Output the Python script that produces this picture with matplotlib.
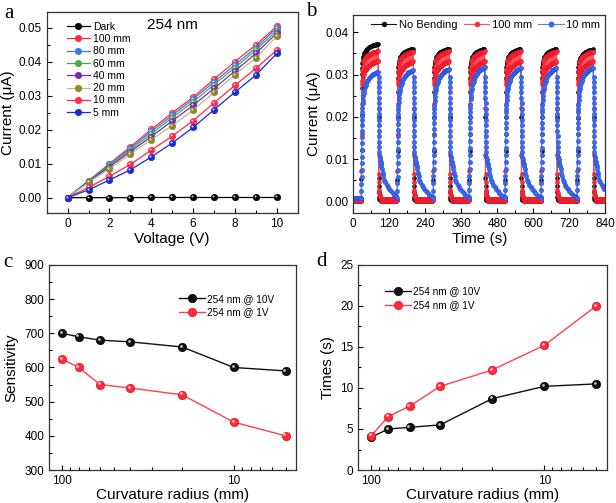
import numpy as np
import matplotlib
matplotlib.use("Agg")
import matplotlib.pyplot as plt
from matplotlib.transforms import offset_copy
from matplotlib.ticker import MultipleLocator, LogLocator, FuncFormatter, NullFormatter

plt.rcParams['font.family'] = ['Liberation Sans', 'DejaVu Sans']
plt.rcParams['axes.linewidth'] = 0.9

# ---------------- panel a data ----------------
voltage = [0, 1, 2, 3, 4, 5, 6, 7, 8, 9, 10]
iv_labels = ["Dark", "100 mm", "80 mm", "60 mm", "40 mm", "20 mm", "10 mm", "5 mm"]
iv_dark = [0, 0, 0, 0, 0.00005, 0.00005, 0.00005, 0.00005, 0.00005, 0.00005, 0.00005]
iv_100 = [0, 0.0050, 0.0100, 0.0150, 0.0201, 0.0250, 0.0296, 0.0349, 0.0401, 0.0450, 0.0505]
iv_80 = [0, 0.0050, 0.0098, 0.0145, 0.0195, 0.0243, 0.0290, 0.0341, 0.0391, 0.0442, 0.0500]
iv_60 = [0, 0.0048, 0.0095, 0.0140, 0.0188, 0.0236, 0.0282, 0.0333, 0.0383, 0.0435, 0.0492]
iv_40 = [0, 0.0047, 0.0091, 0.0135, 0.0180, 0.0226, 0.0272, 0.0322, 0.0373, 0.0425, 0.0485]
iv_20 = [0, 0.0045, 0.0085, 0.0128, 0.0171, 0.0212, 0.0258, 0.0310, 0.0362, 0.0412, 0.0475]
iv_10 = [0, 0.0030, 0.0063, 0.0098, 0.0140, 0.0181, 0.0227, 0.0279, 0.0331, 0.0381, 0.0435]
iv_5 = [0, 0.0023, 0.0052, 0.0082, 0.0120, 0.0161, 0.0207, 0.0259, 0.0311, 0.0361, 0.0425]
iv_colors = ["#000000", "#ff2a3a", "#3a78f0", "#4fa84f", "#7a2ab0", "#8a8a2a", "#ff2a4a", "#1a2ad0"]
iv_line_colors = ["#000000", "#ff2a3a", "#3a78f0", "#4fa84f", "#7a2ab0", "#b8c080", "#ff2a4a", "#1a2ad0"]

# ---------------- panel b data ----------------
t_on = [27, 147, 267, 387, 507, 627, 747]
t_off = [84, 201, 321, 440, 560, 679, 801]
t_end = 840
peak_black = [0.0372, 0.0361, 0.0361, 0.0361, 0.0361, 0.0361, 0.0360]
peak_red = [0.0356, 0.0355, 0.0356, 0.0356, 0.0356, 0.0356, 0.0355]
peak_blue = [0.0305, 0.0310, 0.0313, 0.0317, 0.0316, 0.0316, 0.0316]
base_black, base_red, base_blue = 0.0000, 0.0002, 0.0008

black_on_dt = [0, 0.3, 0.6, 0.9, 1.2, 1.5, 2, 3, 4, 5, 6, 8, 10, 12, 14, 16, 18, 20, 23, 26,
               29, 32, 35, 38, 41, 44, 47, 50, 53, 56]
black_on_rel = [0.01, 0.14, 0.33, 0.55, 0.72, 0.81, 0.85, 0.88, 0.90, 0.91, 0.92, 0.935, 0.945,
                0.952, 0.958, 0.963, 0.967, 0.971, 0.976, 0.980, 0.984, 0.987, 0.990, 0.992,
                0.994, 0.996, 0.997, 0.998, 0.999, 1.0]
black_off_dt = [0.3, 0.6, 0.9, 1.3, 1.8, 2.5, 4, 6, 9, 13, 18, 24, 30, 36, 42, 48, 54, 60, 66]
black_off = [0.020, 0.0055, 0.0036, 0.0022, 0.0011, 0.0006, 0.0004, 0.0003, 0.0002, 0.0002,
             0.0001, 0.0001, 0.0001, 0.0001, 0.0001, 0.0001, 0.0001, 0.0001, 0.0001]

red_edge_dt = [0, 0.3, 0.6, 0.9, 1.3]
red_edge_rel = [0.01, 0.20, 0.45, 0.65, 0.78]
red_lo_dt = [2, 4, 6, 8, 10, 12, 14, 16, 18, 20, 22, 24, 26, 28, 30, 32, 34, 36, 38, 40, 42,
             44, 46, 48, 50, 52, 54, 56]
red_lo_rel = [0.80, 0.82, 0.84, 0.85, 0.86, 0.87, 0.875, 0.88, 0.885, 0.89, 0.895, 0.90, 0.903,
              0.906, 0.909, 0.912, 0.915, 0.917, 0.919, 0.921, 0.923, 0.925, 0.927, 0.929,
              0.931, 0.933, 0.934, 0.935]
red_hi_dt = [3, 5, 7, 9, 11, 13, 15, 17, 19, 21, 23, 25, 27, 29, 31, 33, 35, 37, 39, 41, 43,
             45, 47, 49, 51, 53, 55]
red_hi_rel = [0.87, 0.90, 0.93, 0.94, 0.95, 0.955, 0.96, 0.964, 0.968, 0.971, 0.974, 0.976,
              0.978, 0.980, 0.982, 0.984, 0.986, 0.988, 0.99, 0.991, 0.993, 0.994, 0.995,
              0.996, 0.997, 0.998, 1.0]
red_off_dt = [0.3, 0.6, 0.9, 1.3, 1.8, 2.5, 3.5, 4.5, 6.0]
red_off = [0.022, 0.011, 0.0065, 0.0045, 0.0028, 0.0019, 0.0015, 0.0012, 0.0010]
red_base_levels = [0.0006, 0.0000]

blue_on_dt = [0.0, 0.15, 0.3, 0.45, 0.6, 0.75, 0.9, 1.05, 1.2, 1.35, 1.5, 1.7, 1.9, 2.2, 2.6,
              3.0, 4, 5, 6.5, 8, 10, 12, 14, 16.5, 19, 22, 25, 28, 31, 34, 37, 40, 43, 46,
              49, 52, 55]
blue_on_rel = [0.026, 0.082, 0.138, 0.19, 0.243, 0.295, 0.348, 0.40, 0.452, 0.502, 0.548,
               0.59, 0.63, 0.666, 0.695, 0.721, 0.761, 0.787, 0.816, 0.839, 0.866, 0.885,
               0.902, 0.918, 0.931, 0.944, 0.954, 0.964, 0.970, 0.977, 0.984, 0.987, 0.990,
               0.993, 0.997, 1.0, 1.0]
blue_off_dt = [0.15, 0.3, 0.45, 0.6, 0.75, 0.9, 1.05, 1.2, 1.35, 1.5, 1.7, 1.9, 2.2, 2.6, 3.0,
               4, 5.5, 7, 8.5, 10, 12, 14, 16.5, 19.5, 23, 27, 31, 36, 41, 47, 53, 59, 65]
blue_off = [0.0295, 0.0282, 0.0270, 0.0258, 0.0245, 0.0232, 0.0219, 0.0206, 0.0193, 0.0180,
            0.0167, 0.0154, 0.0141, 0.0128, 0.0116, 0.0105, 0.0100, 0.0094, 0.0089, 0.0083,
            0.0076, 0.0068, 0.0060, 0.0051, 0.0045, 0.0039, 0.0034, 0.0029, 0.0025, 0.0020,
            0.0016, 0.0013, 0.0011]

# ---------------- panels c, d data ----------------
radius = [100, 80, 60, 40, 20, 10, 5]
sens_10v = [700, 690, 680, 675, 660, 600, 590]
sens_1v = [625, 600, 550, 540, 520, 440, 400]
time_10v = [4.0, 5.0, 5.2, 5.5, 8.7, 10.2, 10.5]
time_1v = [4.2, 6.5, 7.8, 10.2, 12.2, 15.2, 20.0]
cd_labels = ["254 nm @ 10V", "254 nm @ 1V"]


def build_series(pre_v, on_dt, on_rel, peaks, off_dt, off_v, base_cycle=None):
    ts = list(np.arange(0, t_on[0], 2.0))
    vs = [pre_v] * len(ts)
    for k, (a, b) in enumerate(zip(t_on, t_off)):
        for d, r in zip(on_dt, on_rel):
            if d < b - a:
                ts.append(a + d)
                vs.append(r * peaks[k])
        nxt = t_on[k + 1] if k + 1 < len(t_on) else t_end + 0.5
        for d, v in zip(off_dt, off_v):
            if b + d < nxt:
                ts.append(b + d)
                vs.append(v)
        if base_cycle is not None:
            start = b + off_dt[-1] + 1.5
            bt = np.arange(start, nxt - 0.5, 1.5)
            for i, tt in enumerate(bt):
                ts.append(tt)
                vs.append(base_cycle[i % len(base_cycle)])
    return np.array(ts), np.array(vs)


fig = plt.figure(figsize=(6.16, 5.03), dpi=100)

ax_a = fig.add_axes([0.0758, 0.576, 0.4075, 0.4008])
ax_b = fig.add_axes([0.5735, 0.576, 0.409, 0.3942])
ax_c = fig.add_axes([0.0795, 0.0656, 0.401, 0.4076])
ax_d = fig.add_axes([0.5817, 0.0656, 0.4032, 0.4076])

TICK_FS = 8.5
LABEL_FS = 11


def style(ax):
    ax.tick_params(which='both', direction='in', labelsize=TICK_FS, width=0.8,
                   top=False, right=False)
    ax.tick_params(which='major', length=3.5)
    ax.tick_params(which='minor', length=2)
    for s in ax.spines.values():
        s.set_color('#333333')


def ball(ax, x, y, color, ms, edge=None, lw=1.0, lcolor=None, label=None, hl=True):
    ax.plot(x, y, '-', color=lcolor or color, lw=lw, marker='o', ms=ms,
            mfc=color, mec=edge or color, mew=0.5, label=label)
    if hl:
        tr = offset_copy(ax.transData, fig=fig, x=-ms * 0.16, y=ms * 0.16, units='points')
        ax.plot(x, y, 'o', ms=ms * 0.33, color='white', alpha=0.75, mew=0, transform=tr)


# ---------- panel a ----------
iv_series = [iv_dark, iv_100, iv_80, iv_60, iv_40, iv_20, iv_10, iv_5]
for lab, ser, c, lc in zip(iv_labels, iv_series, iv_colors, iv_line_colors):
    ball(ax_a, voltage, ser, c, 4.6, lcolor=lc, lw=0.9, label=lab)
ax_a.set_xlim(-1, 11)
ax_a.set_ylim(-0.0046, 0.0548)
ax_a.xaxis.set_major_locator(MultipleLocator(2))
ax_a.xaxis.set_minor_locator(MultipleLocator(1))
ax_a.yaxis.set_major_locator(MultipleLocator(0.01))
ax_a.yaxis.set_minor_locator(MultipleLocator(0.005))
ax_a.yaxis.set_major_formatter(FuncFormatter(lambda v, p: f"{v:.2f}"))
style(ax_a)
ax_a.set_xlabel("Voltage (V)", fontsize=LABEL_FS, labelpad=1)
ax_a.set_ylabel("Current (\u03bcA)", fontsize=LABEL_FS, labelpad=3)
ax_a.text(0.5, 0.935, "254 nm", transform=ax_a.transAxes, fontsize=11,
          ha='center', va='center')
ax_a.legend(loc='upper left', bbox_to_anchor=(0.08, 0.95), frameon=False, fontsize=7.5,
            numpoints=1, handlelength=2.2, handletextpad=0.3, labelspacing=0.22,
            borderaxespad=0, borderpad=0)

# ---------- panel b ----------
tb, vb = build_series(base_black, black_on_dt, black_on_rel, peak_black,
                      black_off_dt, black_off)
red_on_dt = red_edge_dt + sorted(red_lo_dt + red_hi_dt)
red_pairs = dict(zip(red_lo_dt, red_lo_rel))
red_pairs.update(dict(zip(red_hi_dt, red_hi_rel)))
red_on_rel = red_edge_rel + [red_pairs[d] for d in sorted(red_lo_dt + red_hi_dt)]
tr_, vr = build_series(base_red, red_on_dt, red_on_rel, peak_red, red_off_dt, red_off,
                       base_cycle=red_base_levels)
tbl, vbl = build_series(base_blue, blue_on_dt, blue_on_rel, peak_blue, blue_off_dt, blue_off)

ax_b.plot(tb, vb, '-', color='#111111', lw=0.8, marker='o', ms=3.0, mfc='#111111',
          mec='#000000', mew=0.3, label="No Bending")
ax_b.plot(tr_, vr, '-', color='#ff5060', lw=0.8, marker='o', ms=3.0, mfc='#ff2a3a',
          mec='#e01020', mew=0.3, label="100 mm")
ax_b.plot(tbl, vbl, '-', color='#5080f0', lw=0.8, marker='o', ms=3.2, mfc='#3a6af0',
          mec='#2048d0', mew=0.3, label="10 mm")
ax_b.set_xlim(0, 840)
ax_b.set_ylim(-0.0028, 0.0441)
ax_b.xaxis.set_major_locator(MultipleLocator(120))
ax_b.xaxis.set_minor_locator(MultipleLocator(60))
ax_b.yaxis.set_major_locator(MultipleLocator(0.01))
ax_b.yaxis.set_minor_locator(MultipleLocator(0.005))
ax_b.yaxis.set_major_formatter(FuncFormatter(lambda v, p: f"{v:.2f}"))
style(ax_b)
ax_b.set_xlabel("Time (s)", fontsize=LABEL_FS, labelpad=1)
ax_b.set_ylabel("Current (\u03bcA)", fontsize=LABEL_FS, labelpad=3)
ax_b.legend(loc='upper left', bbox_to_anchor=(0.07, 0.975), frameon=False, fontsize=8,
            ncol=3, numpoints=1, handlelength=2.3, handletextpad=0.2, columnspacing=0.6,
            borderaxespad=0, borderpad=0, markerscale=1.2)


# ---------- panels c and d ----------
def log_axis(ax):
    ax.set_xscale('log')
    ax.set_xlim(119, 4.35)
    ax.xaxis.set_major_locator(LogLocator(base=10, numticks=10))
    ax.xaxis.set_minor_locator(LogLocator(base=10, subs=np.arange(2, 10), numticks=20))
    ax.xaxis.set_major_formatter(FuncFormatter(lambda v, p: f"{v:g}"))
    ax.xaxis.set_minor_formatter(NullFormatter())


ball(ax_c, radius, sens_10v, '#111111', 6.0, edge='#000000', lw=1.0, label=cd_labels[0])
ball(ax_c, radius, sens_1v, '#ff2a3a', 6.0, edge='#e01020', lcolor='#ff4050', lw=1.0,
     label=cd_labels[1])
log_axis(ax_c)
ax_c.set_ylim(300, 900)
ax_c.yaxis.set_major_locator(MultipleLocator(100))
ax_c.yaxis.set_minor_locator(MultipleLocator(50))
style(ax_c)
ax_c.set_xlabel("Curvature radius (mm)", fontsize=LABEL_FS, labelpad=1)
ax_c.set_ylabel("Sensitivity", fontsize=LABEL_FS, labelpad=4)
ax_c.legend(loc='upper left', bbox_to_anchor=(0.526, 0.86), frameon=False, fontsize=7.2,
            numpoints=1, handlelength=2.6, handletextpad=0.2, labelspacing=0.35,
            borderaxespad=0, borderpad=0)

ball(ax_d, radius, time_10v, '#111111', 6.0, edge='#000000', lw=1.0, label=cd_labels[0])
ball(ax_d, radius, time_1v, '#ff2a3a', 6.0, edge='#e01020', lcolor='#ff4050', lw=1.0,
     label=cd_labels[1])
log_axis(ax_d)
ax_d.set_ylim(0, 25)
ax_d.yaxis.set_major_locator(MultipleLocator(5))
ax_d.yaxis.set_minor_locator(MultipleLocator(2.5))
style(ax_d)
ax_d.set_xlabel("Curvature radius (mm)", fontsize=LABEL_FS, labelpad=1)
ax_d.set_ylabel("Times (s)", fontsize=LABEL_FS, labelpad=4)
ax_d.legend(loc='upper left', bbox_to_anchor=(0.107, 0.895), frameon=False, fontsize=7.2,
            numpoints=1, handlelength=2.6, handletextpad=0.2, labelspacing=0.35,
            borderaxespad=0, borderpad=0)

# panel letters
for lx, ly, letter in [(4, 4, 'a'), (306, 2, 'b'), (3, 253, 'c'), (316, 252, 'd')]:
    fig.text(lx / 616, 1 - ly / 503, letter, family=['Liberation Serif', 'DejaVu Serif'],
             fontsize=15, ha='left', va='top')

fig.savefig("out.png", dpi=100)
